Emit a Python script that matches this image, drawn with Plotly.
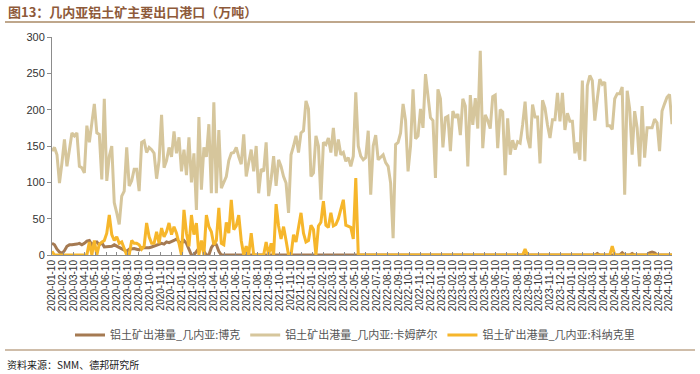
import pandas as pd
import plotly.graph_objects as go

# weekly dates
dates = pd.date_range("2020-01-10", periods=250, freq="7D")

# 铝土矿出港量_几内亚:卡姆萨尔
kamsar = [143,148,138,99,127,159,122,145,168,164,
          168,122,120,113,178,155,178,208,168,166,
          104,215,102,136,150,72,58,42,81,88,
          148,95,102,118,118,88,155,157,141,148,
          145,140,105,130,193,120,130,148,135,170,
          140,162,115,145,110,162,100,140,62,190,
          90,148,135,180,85,210,85,172,92,100,
          108,130,140,141,148,135,125,166,108,127,
          145,115,150,85,118,115,155,81,104,136,
          95,131,122,108,99,58,138,150,164,141,
          168,171,212,201,108,113,164,150,76,155,
          152,161,141,175,136,159,138,141,129,134,
          122,136,224,150,136,131,134,171,83,150,
          165,131,135,138,127,122,99,23,152,155,
          168,208,185,115,150,228,160,164,201,175,
          249,215,189,185,106,228,215,148,189,191,
          143,198,189,194,165,215,205,122,220,179,
          216,174,281,147,193,185,174,218,220,147,
          200,197,110,188,138,158,145,156,154,179,
          211,161,147,207,190,190,126,213,202,179,
          161,186,186,223,184,223,172,195,184,184,
          140,155,131,240,129,233,247,240,185,215,
          242,235,238,178,178,173,215,222,222,231,
          83,226,201,138,198,175,122,205,134,175,
          175,175,187,182,143,198,208,217,221,180]

# 铝土矿出港量_几内亚:科纳克里
conakry = [5,0,0,0,0,0,0,0,0,0,
           0,0,0,0,0,18,0,20,0,15,
           18,20,30,55,28,20,25,16,18,8,
           0,0,20,16,16,14,8,12,44,25,
           16,16,32,16,37,25,32,44,28,39,
           30,16,0,62,30,12,55,28,44,0,
           20,0,55,39,32,14,20,65,16,14,
           45,30,76,35,40,55,20,0,12,0,
           30,0,0,0,0,0,18,0,16,0,
           70,40,22,39,20,0,0,28,18,40,
           58,30,18,20,41,35,0,40,45,74,
           41,38,58,40,42,50,62,76,41,40,
           38,22,106,0,0,0,0,0,0,0,
           0,0,0,0,0,0,0,0,0,0,
           0,0,0,0,0,0,0,0,0,0,
           0,0,0,0,0,0,0,0,0,0,
           0,0,0,0,0,0,0,0,0,0,
           0,0,0,0,0,0,0,0,0,0,
           0,0,0,0,0,0,0,0,0,0,
           8,0,0,0,0,0,0,0,0,0,
           0,0,0,0,0,0,0,0,0,0,
           0,0,0,0,0,0,0,0,0,0,
           0,0,0,0,0,12,0,0,0,0,
           0,0,0,0,0,0,0,0,0,0,
           0,0,0,0,0,0,0,0,0,0]

# 铝土矿出港量_几内亚:博克
boke = [16,14,8,4,2,6,12,14,14,14,
        15,16,14,16,19,20,14,17,18,14,
        17,11,11,11,12,14,12,11,8,6,
        5,8,9,9,8,7,10,10,9,10,
        11,12,14,15,16,15,18,17,18,20,
        22,18,16,20,16,8,0,0,5,10,
        14,5,0,0,10,15,14,5,0,0,
        0,0,0,0,0,0,0,0,0,0,
        0,0,0,0,0,0,0,0,0,0,
        0,0,0,0,0,0,0,0,0,0,
        0,0,0,0,0,0,0,0,0,0,
        0,0,0,0,0,0,0,0,0,0,
        0,0,0,0,0,0,0,0,0,0,
        0,0,0,0,0,0,0,0,0,0,
        0,0,0,0,0,0,0,0,0,0,
        0,0,0,0,0,0,0,0,0,0,
        0,0,0,0,0,0,0,0,0,0,
        0,0,0,0,0,0,0,0,0,0,
        0,0,0,0,0,0,0,0,0,0,
        0,0,0,0,0,0,0,0,0,0,
        0,0,0,0,0,0,0,0,0,0,
        0,0,0,0,0,0,0,0,0,2,
        0,0,0,0,0,0,0,0,0,3,
        0,0,0,2,0,0,0,0,0,0,
        3,4,3,0,0,0,0,0,0,0]

series_names = ["铝土矿出港量_几内亚:博克", "铝土矿出港量_几内亚:卡姆萨尔", "铝土矿出港量_几内亚:科纳克里"]
series_colors = ["#A57A52", "#D6C69C", "#F6B62B"]

tick_dates = pd.date_range("2020-01-01", "2024-10-01", freq="MS") + pd.Timedelta(days=9)
tick_labels = [d.strftime("%Y-%m-%d") for d in tick_dates]

title_text = "图13：几内亚铝土矿主要出口港口（万吨）"
source_text = "资料来源：SMM、德邦研究所"

fig = go.Figure()
for name, vals, col in zip(series_names, [boke, kamsar, conakry], series_colors):
    fig.add_trace(go.Scatter(x=dates, y=vals, mode="lines", name=name,
                             line=dict(color=col, width=3)))

# pixel helpers (plot area 52..672 x, 37..255 y)
def px(xp):
    return (xp - 52) / 620.0
def py(yp):
    return (255 - yp) / 218.0

fig.update_layout(
    width=700, height=374,
    margin=dict(l=52, r=28, t=37, b=119),
    paper_bgcolor="white", plot_bgcolor="white",
    font=dict(family="Liberation Sans, Arial, sans-serif", color="#333333"),
    showlegend=True,
    legend=dict(orientation="h", x=px(355), xanchor="center", y=py(335), yanchor="middle",
                font=dict(family="Noto Sans CJK SC", size=11, color="#555555"),
                itemwidth=30, tracegroupgap=0, bgcolor="rgba(0,0,0,0)"),
    xaxis=dict(type="date", range=["2020-01-10", "2024-10-18"],
               tickvals=list(tick_dates), ticktext=tick_labels, tickangle=-90,
               tickfont=dict(size=10, color="#333333"),
               showgrid=False, zeroline=False, showline=True, linecolor="#8C8C8C", linewidth=1,
               ticks="inside", ticklen=3, tickcolor="#8C8C8C"),
    yaxis=dict(range=[0, 300], tickvals=[0, 50, 100, 150, 200, 250, 300],
               tickfont=dict(size=11, color="#333333"),
               showgrid=False, zeroline=False, showline=True, linecolor="#8C8C8C", linewidth=1,
               ticks="outside", ticklen=4, tickcolor="#8C8C8C"),
)

fig.add_annotation(text="<b>" + title_text + "</b>", xref="paper", yref="paper",
                   x=px(6), y=py(12), xanchor="left", yanchor="middle", showarrow=False,
                   font=dict(family="Noto Sans CJK SC", size=13, color="#8E5A3A"))
fig.add_annotation(text=source_text, xref="paper", yref="paper",
                   x=px(5), y=py(364), xanchor="left", yanchor="middle", showarrow=False,
                   font=dict(family="Noto Sans CJK SC", size=10, color="#222222"))
fig.add_shape(type="line", xref="paper", yref="paper", x0=px(5), x1=px(695), y0=py(22), y1=py(22),
              line=dict(color="#BFA78C", width=2))
fig.add_shape(type="line", xref="paper", yref="paper", x0=px(5), x1=px(695), y0=py(350), y1=py(350),
              line=dict(color="#BFA78C", width=1.5))

fig.write_html("out.html", config={"displayModeBar": False},
               post_script="document.body.style.margin='0';document.body.style.padding='0';")
